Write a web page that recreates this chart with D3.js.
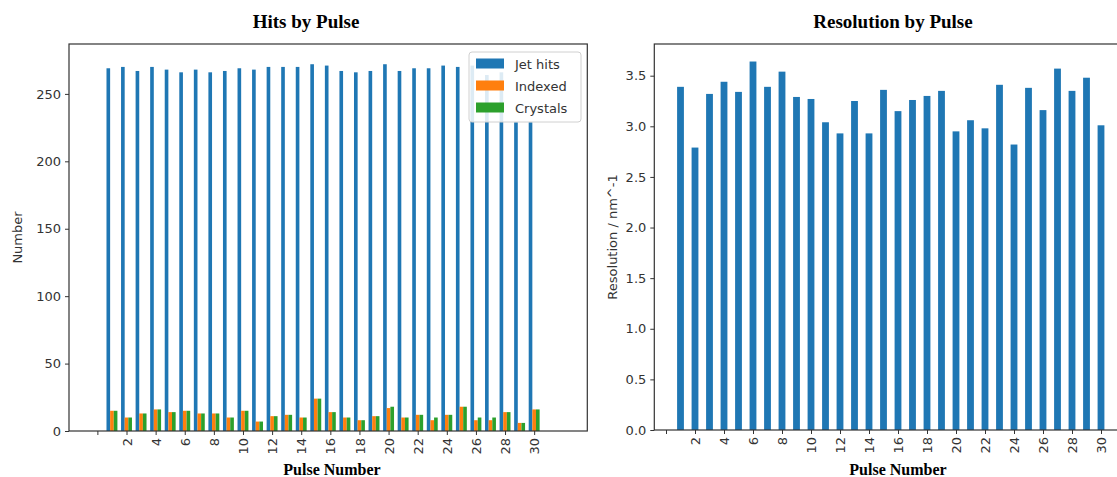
<!DOCTYPE html>
<html>
<head>
<meta charset="utf-8">
<script src="https://cdn.jsdelivr.net/npm/d3@7/dist/d3.min.js"></script>
<style>
  html, body { margin: 0; padding: 0; background: #fff; }
  svg { display: block; }
  .tick text { font-family: "DejaVu Sans", sans-serif; font-size: 13px; fill: #333; }
  .tick line { stroke: #333; }
  .domain { display: none; }
</style>
</head>
<body>
<svg id="chart" width="1117" height="477"></svg>
<script>
// Pulse numbers 1..30
const pulses = d3.range(1, 31);

// Hits per pulse
const jetHits = [269, 270, 267, 270, 268, 266, 268, 266, 267, 269,
                 268, 270, 270, 270, 272, 271, 267, 266, 267, 272,
                 267, 269, 269, 271, 270, 271, 264, 266, 229, 229];
const indexed = [15, 10, 13, 16, 14, 15, 13, 13, 10, 15,
                 7, 11, 12, 10, 24, 14, 10, 8, 11, 17,
                 10, 12, 8, 12, 18, 8, 8, 14, 6, 16];
const crystals = [15, 10, 13, 16, 14, 15, 13, 13, 10, 15,
                  7, 11, 12, 10, 24, 14, 10, 8, 11, 18,
                  10, 12, 10, 12, 18, 10, 10, 14, 6, 16];

// Resolution per pulse (nm^-1)
const resolution = [3.39, 2.79, 3.32, 3.44, 3.34, 3.64, 3.39, 3.54, 3.29, 3.27,
                    3.04, 2.93, 3.25, 2.93, 3.36, 3.15, 3.26, 3.30, 3.35, 2.95,
                    3.06, 2.98, 3.41, 2.82, 3.38, 3.16, 3.57, 3.35, 3.48, 3.01];

const xTickValues = d3.range(0, 31, 2);
const hitsTicks = [0, 50, 100, 150, 200, 250];
const resTicks = [0, 0.5, 1.0, 1.5, 2.0, 2.5, 3.0, 3.5];

const seriesNames = ["Jet hits", "Indexed", "Crystals"];
const seriesColors = ["#1f77b4", "#ff7f0e", "#2ca02c"];

const svg = d3.select("#chart");
const axisColor = "#333";

function xTickFormat(d) { return d === 0 ? "" : String(d); }

function drawXAxis(g, x, y0) {
  const ax = g.append("g")
    .attr("transform", `translate(0,${y0})`)
    .call(d3.axisBottom(x).tickValues(xTickValues).tickFormat(xTickFormat).tickSize(4).tickPadding(4));
  ax.selectAll(".tick text")
    .attr("transform", "rotate(-90)")
    .attr("text-anchor", "end")
    .attr("dy", "0.35em")
    .attr("x", -7)
    .attr("y", 0);
}

function frame(g, x0, y0, x1, y1) {
  g.append("rect")
    .attr("x", x0).attr("y", y0)
    .attr("width", x1 - x0).attr("height", y1 - y0)
    .attr("fill", "none").attr("stroke", axisColor).attr("stroke-width", 1.2);
}

// ---------- Hits by Pulse ----------
{
  const L = 69, R = 587.3, T = 44, B = 431;
  const g = svg.append("g");
  const x = d3.scaleLinear().domain([-1.95, 33.65]).range([L, R]);
  const y = d3.scaleLinear().domain([0, 287]).range([B, T]);
  const w = 0.25;
  const series = [jetHits, indexed, crystals];
  const offsets = [-w, 0, w];

  series.forEach((vals, si) => {
    g.append("g").selectAll("rect")
      .data(pulses)
      .join("rect")
      .attr("x", (p) => x(p + offsets[si] - w / 2))
      .attr("width", x(w) - x(0))
      .attr("y", (p, i) => y(vals[i]))
      .attr("height", (p, i) => y(0) - y(vals[i]))
      .attr("fill", seriesColors[si]);
  });

  g.append("g")
    .attr("transform", `translate(${L},0)`)
    .call(d3.axisLeft(y).tickValues(hitsTicks).tickSize(4).tickPadding(4));
  drawXAxis(g, x, B);
  frame(g, L, T, R, B);

  // Legend
  const lg = g.append("g").attr("transform", "translate(469,52)");
  lg.append("rect")
    .attr("width", 112).attr("height", 70).attr("rx", 3)
    .attr("fill", "#fff").attr("fill-opacity", 0.85)
    .attr("stroke", "#d0d0d0");
  seriesNames.forEach((name, i) => {
    lg.append("rect")
      .attr("x", 7).attr("y", 6.5 + i * 22)
      .attr("width", 28).attr("height", 10)
      .attr("fill", seriesColors[i]);
    lg.append("text")
      .attr("x", 46).attr("y", 16.5 + i * 22)
      .attr("font-family", "DejaVu Sans, sans-serif")
      .attr("font-size", 13).attr("fill", "#333")
      .text(name);
  });

  g.append("text")
    .attr("x", 306).attr("y", 28)
    .attr("text-anchor", "middle")
    .attr("font-family", "Liberation Serif, serif")
    .attr("font-weight", "bold").attr("font-size", 19)
    .text("Hits by Pulse");
  g.append("text")
    .attr("x", 332).attr("y", 475)
    .attr("text-anchor", "middle")
    .attr("font-family", "Liberation Serif, serif")
    .attr("font-weight", "bold").attr("font-size", 16)
    .text("Pulse Number");
  g.append("text")
    .attr("transform", `translate(22,${(T + B) / 2}) rotate(-90)`)
    .attr("text-anchor", "middle")
    .attr("font-family", "DejaVu Sans, sans-serif")
    .attr("font-size", 13).attr("fill", "#333")
    .text("Number");
}

// ---------- Resolution by Pulse ----------
{
  const L = 654.3, R = 1130, T = 44, B = 430;
  const g = svg.append("g");
  const x = d3.scaleLinear().domain([-0.807, (R - 666) / 14.5]).range([L, R]);
  const y = d3.scaleLinear().domain([0, (B - T) / 101.23]).range([B, T]);
  const w = 0.47;

  g.append("g").selectAll("rect")
    .data(pulses)
    .join("rect")
    .attr("x", (p) => x(p - w / 2))
    .attr("width", x(w) - x(0))
    .attr("y", (p, i) => y(resolution[i]))
    .attr("height", (p, i) => y(0) - y(resolution[i]))
    .attr("fill", seriesColors[0]);

  g.append("g")
    .attr("transform", `translate(${L},0)`)
    .call(d3.axisLeft(y).tickValues(resTicks).tickFormat(d3.format(".1f")).tickSize(4).tickPadding(4));
  drawXAxis(g, x, B);
  frame(g, L, T, R, B);

  g.append("text")
    .attr("x", 893).attr("y", 28)
    .attr("text-anchor", "middle")
    .attr("font-family", "Liberation Serif, serif")
    .attr("font-weight", "bold").attr("font-size", 19)
    .text("Resolution by Pulse");
  g.append("text")
    .attr("x", 898).attr("y", 475)
    .attr("text-anchor", "middle")
    .attr("font-family", "Liberation Serif, serif")
    .attr("font-weight", "bold").attr("font-size", 16)
    .text("Pulse Number");
  g.append("text")
    .attr("transform", `translate(617,${(T + B) / 2}) rotate(-90)`)
    .attr("text-anchor", "middle")
    .attr("font-family", "DejaVu Sans, sans-serif")
    .attr("font-size", 13).attr("fill", "#333")
    .text("Resolution / nm^-1");
}
</script>
</body>
</html>
